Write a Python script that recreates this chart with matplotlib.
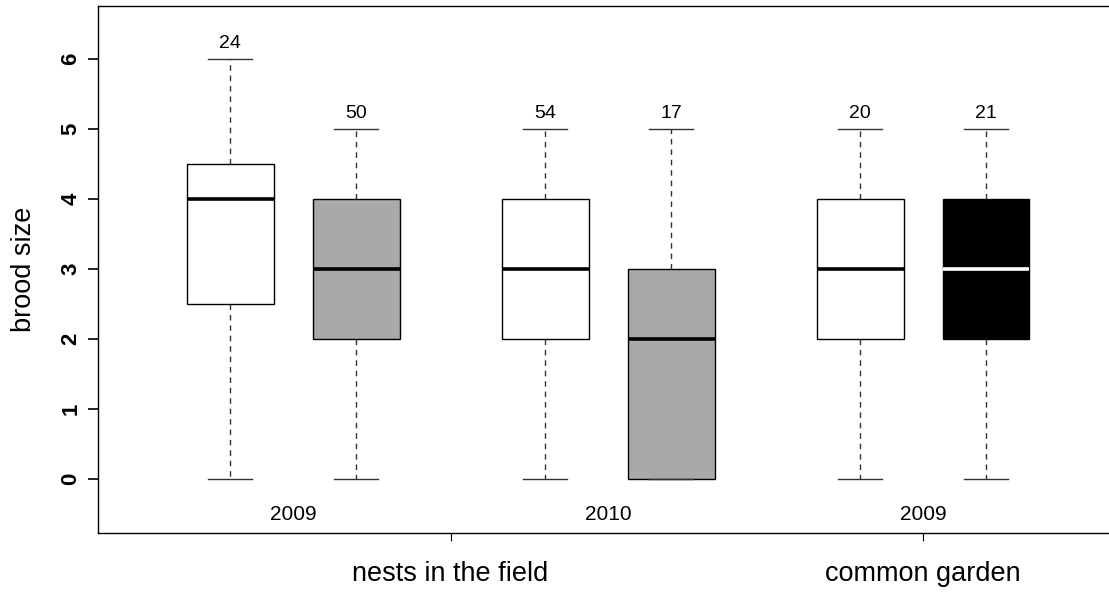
import matplotlib
matplotlib.use("Agg")
import matplotlib.pyplot as plt

# Brood size summaries per group: whisker ends, quartiles, median, sample size
positions = [1, 2, 3.5, 4.5, 6, 7]
whisker_low = [0, 0, 0, 0, 0, 0]
q1 = [2.5, 2, 2, 0, 2, 2]
medians = [4, 3, 3, 2, 3, 3]
q3 = [4.5, 4, 4, 3, 4, 4]
whisker_high = [6, 5, 5, 5, 5, 5]
n_nests = [24, 50, 54, 17, 20, 21]
box_colors = ["white", "#a9a9a9", "white", "#a9a9a9", "white", "black"]
median_colors = ["black", "black", "black", "black", "black", "white"]

year_labels = ["2009", "2010", "2009"]
year_positions = [1.5, 4, 6.5]
group_labels = ["nests in the field", "common garden"]
group_positions = [2.75, 6.5]

plt.rcParams["font.family"] = ["Liberation Sans", "DejaVu Sans"]

fig = plt.figure(figsize=(11.09, 5.92), dpi=100)
ax = fig.add_axes([0.0884, 0.0997, 0.9116, 0.8907])

stats = []
for lo, a, m, b, hi in zip(whisker_low, q1, medians, q3, whisker_high):
    stats.append({"whislo": lo, "q1": a, "med": m, "q3": b, "whishi": hi, "fliers": []})

bp = ax.bxp(stats, positions=positions, widths=0.69, patch_artist=True,
            showfliers=False,
            boxprops=dict(edgecolor="black", linewidth=1.0),
            whiskerprops=dict(color="#333333", linewidth=1.0, linestyle=(0, (4, 3.5))),
            capprops=dict(color="#333333", linewidth=1.0),
            medianprops=dict(linewidth=2.6),
            capwidths=0.345)

for patch, fc in zip(bp["boxes"], box_colors):
    patch.set_facecolor(fc)
for med, mc in zip(bp["medians"], median_colors):
    med.set_color(mc)
    med.set_solid_capstyle("butt")

for x, hi, n in zip(positions, whisker_high, n_nests):
    ax.text(x, hi + 0.1, str(n), ha="center", va="bottom", fontsize=14)

for x, lab in zip(year_positions, year_labels):
    ax.text(x, -0.5, lab, ha="center", va="center", fontsize=15)

ax.set_xlim(-0.048, 7.976)
ax.set_ylim(-0.77, 6.76)

ax.set_yticks(range(0, 7))
ax.set_yticklabels([str(v) for v in range(0, 7)], rotation=90, va="center",
                   fontsize=16, fontweight="bold")
ax.tick_params(axis="y", length=7, width=1.2, pad=5)

ax.set_xticks(group_positions)
ax.set_xticklabels(group_labels, fontsize=19.5)
ax.tick_params(axis="x", length=5.5, width=0.8, pad=15)

ax.set_ylabel("brood size", fontsize=19.5, labelpad=17)

for side in ["left", "top", "bottom"]:
    ax.spines[side].set_linewidth(1.0)
    ax.spines[side].set_color("black")
ax.spines["right"].set_visible(False)

fig.savefig("out.png", dpi=100)
